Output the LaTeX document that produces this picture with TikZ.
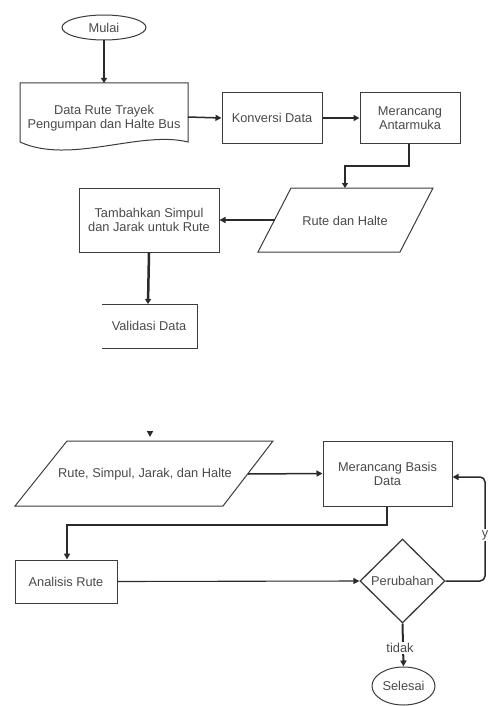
\documentclass[tikz,border=0pt]{standalone}
\usepackage{fontspec}
\setmainfont{Liberation Sans}
\usetikzlibrary{arrows.meta,shapes.geometric}
\definecolor{txt}{HTML}{4A4A4A}
\definecolor{edge}{HTML}{3C3C3C}
\definecolor{wire}{HTML}{2A2A2A}
\begin{document}
\begin{tikzpicture}[x=1pt,y=-1pt,
  every node/.style={font=\fontsize{12.8}{14}\selectfont, text=txt, align=center, inner sep=0pt},
  procbox/.style={draw=edge, line width=1pt, fill=white, rectangle},
  term/.style={draw=edge, line width=1pt, fill=white, ellipse},
  shapeline/.style={draw=edge, line width=1pt},
  flow/.style={draw=wire, line width=1.5pt, -{Triangle[length=6pt,width=6pt]}},
  heavy/.style={flow, line width=2.5pt, -{Triangle[length=5pt,width=6pt]}},
  thinflow/.style={flow, line width=1.1pt},
  lbl/.style={fill=white, inner sep=1pt}]
\useasboundingbox (0,0) rectangle (488,706);

% ---------- upper part ----------
\node[term, minimum width=84pt, minimum height=25pt] (mulai) at (104,27.5) {Mulai};

% document shape
\coordinate (dNW) at (20,83);
\coordinate (dNE) at (188,83);
\coordinate (dSE) at (188,142);
\coordinate (dSW) at (20,142);
\draw[shapeline, fill=white] (dSW) -- (dNW) -- (dNE) -- (dSE)
   .. controls (140,130) and (70,165) .. (dSW);
\node (doc) at (104,118) {Data Rute Trayek\\Pengumpan dan Halte Bus};
\coordinate (docN) at (104,83);
\coordinate (docE) at (188,117);

\node[procbox, minimum width=100pt, minimum height=50pt] (konv) at (272,118) {Konversi Data};
\node[procbox, minimum width=100pt, minimum height=50pt] (antar) at (410,118) {Merancang\\Antarmuka};

% parallelogram 1
\coordinate (p1a) at (291,188);
\coordinate (p1b) at (433,188);
\coordinate (p1c) at (400,252);
\coordinate (p1d) at (258,252);
\draw[shapeline, fill=white] (p1a) -- (p1b) -- (p1c) -- (p1d) -- cycle;
\node (rh) at (345,221) {Rute dan Halte};
\coordinate (p1N) at (345,188);
\coordinate (p1W) at (274.5,220);

\node[procbox, minimum width=140pt, minimum height=64pt] (tamb) at (149,220) {Tambahkan Simpul\\dan Jarak untuk Rute};

% validasi (left side not drawn)
\coordinate (vNW) at (102,304);
\coordinate (vNE) at (197,304);
\coordinate (vSE) at (197,348);
\coordinate (vSW) at (102,348);
\draw[shapeline] (vNW) -- (vNE) -- (vSE) -- (vSW);
\node (valid) at (149,326) {Validasi Data};
\coordinate (vN) at (148,304);

% upper connectors
\draw[heavy] (mulai.south) -- (docN);
\draw[flow] (docE) -- (konv.west);
\draw[flow] (konv.east) -- (antar.west);
\draw[heavy] (antar.south -| 409,0) -- (409,166) -- (345,166) -- (p1N);
\draw[flow] (p1W) -- (tamb.east);
\draw[heavy] (tamb.south) -- (vN);

% ---------- lower part ----------
\coordinate (stubA) at (150,431);
\coordinate (stubB) at (150,437);
\draw[flow] (stubA) -- (stubB);

\coordinate (p2a) at (67,441);
\coordinate (p2b) at (273,441);
\coordinate (p2c) at (223,506);
\coordinate (p2d) at (15,506);
\draw[shapeline, fill=white] (p2a) -- (p2b) -- (p2c) -- (p2d) -- cycle;
\node (rsjh) at (145,474) {Rute, Simpul, Jarak, dan Halte};
\coordinate (p2E) at (248,474);

\node[procbox, minimum width=129pt, minimum height=65pt] (basis) at (387.5,473.5) {Merancang Basis\\Data};
\node[procbox, minimum width=102pt, minimum height=43pt] (anal) at (66,581.5) {Analisis Rute};
\node[draw=edge, line width=1.3pt, diamond, aspect=1, minimum width=85pt, minimum height=84pt, fill=white] (dec) at (402.5,581) {Perubahan};
\node[term, minimum width=63pt, minimum height=38pt] (sel) at (403.5,686) {Selesai};

\draw[flow] (p2E) -- (basis.west);
\draw[flow, line width=2pt] (basis.south -| 387,0) -- (387,525) -- (67,525) -- (anal.north -| 67,0);
\draw[thinflow] (anal.east) -- (dec.west);
\draw[flow, rounded corners=5pt] (dec.east) -- (485,581) -- (485,477) -- (basis.east |- 0,477);
\node[lbl] at (485,535) {y};
\draw[flow, line width=2pt] (dec.south) -- (sel.north);
\node[lbl] at (400,648) {tidak};
\end{tikzpicture}
\end{document}
